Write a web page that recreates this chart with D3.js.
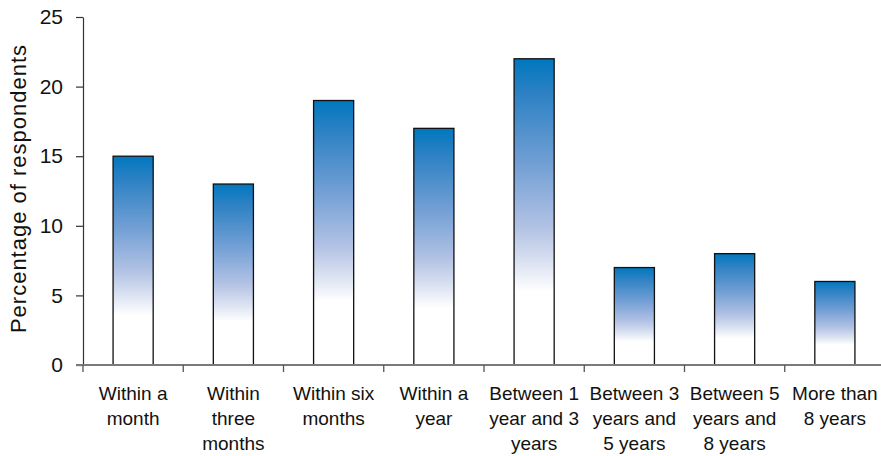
<!DOCTYPE html>
<html>
<head>
<meta charset="utf-8">
<script src="https://cdn.jsdelivr.net/npm/d3@7"></script>
<style>
  html, body { margin: 0; padding: 0; background: #fff; }
  svg { display: block; font-family: "Liberation Sans", Arial, sans-serif; }
</style>
</head>
<body>
<svg id="chart" width="881" height="456"></svg>
<script>
// Time frames (each label split into its printed lines)
const categories = [
  ["Within a", "month"],
  ["Within", "three", "months"],
  ["Within six", "months"],
  ["Within a", "year"],
  ["Between 1", "year and 3", "years"],
  ["Between 3", "years and", "5 years"],
  ["Between 5", "years and", "8 years"],
  ["More than", "8 years"]
];
const values = [15, 13, 19, 17, 22, 7, 8, 6];
const yTicks = [0, 5, 10, 15, 20, 25];
const yTitle = "Percentage of respondents";

const svg = d3.select("#chart");
const plotLeft = 83, plotRight = 885, plotTop = 17, plotBottom = 365;

const x = d3.scaleBand()
  .domain(d3.range(categories.length))
  .range([plotLeft, plotRight])
  .paddingInner(0.6)
  .paddingOuter(0.3);

const xAxisScale = d3.scaleBand()
  .domain(d3.range(categories.length))
  .range([plotLeft, plotRight]);

const y = d3.scaleLinear().domain([0, 25]).range([plotBottom, plotTop]);

// Vertical blue-to-white fill used by every bar
const defs = svg.append("defs");
const grad = defs.append("linearGradient")
  .attr("id", "barFill")
  .attr("x1", 0).attr("y1", 0).attr("x2", 0).attr("y2", 1);
[
  [0, "#0077be"],
  [0.12, "#2f82c4"],
  [0.35, "#74a0d5"],
  [0.55, "#b2c2e4"],
  [0.68, "#e0e6f3"],
  [0.76, "#ffffff"],
  [1, "#ffffff"]
].forEach(([o, c]) => grad.append("stop").attr("offset", o).attr("stop-color", c));

// Bars
svg.append("g")
  .selectAll("rect")
  .data(values)
  .join("rect")
  .attr("x", (d, i) => x(i))
  .attr("width", x.bandwidth())
  .attr("y", d => y(d))
  .attr("height", d => y(0) - y(d))
  .attr("fill", "url(#barFill)")
  .attr("stroke", "#111")
  .attr("stroke-width", 1.3);

// Y axis
const yAxis = svg.append("g")
  .attr("transform", `translate(${plotLeft},0)`)
  .call(d3.axisLeft(y).tickValues(yTicks).tickSize(7).tickPadding(13).tickSizeOuter(0));
yAxis.select(".domain").attr("stroke", "#333").attr("stroke-width", 1.2);
yAxis.selectAll(".tick line").attr("stroke", "#333").attr("stroke-width", 1.2);
yAxis.selectAll(".tick text")
  .attr("font-size", 21)
  .attr("fill", "#111")
  .attr("font-family", "Liberation Sans, Arial, sans-serif");

// X axis with tick marks on category boundaries
const xAxis = svg.append("g").attr("transform", `translate(0,${plotBottom})`);
xAxis.append("line")
  .attr("x1", plotLeft - 7).attr("x2", 881)
  .attr("y1", 0).attr("y2", 0)
  .attr("stroke", "#7a7a7a").attr("stroke-width", 2);
xAxis.selectAll("line.tick")
  .data(d3.range(categories.length + 1))
  .join("line")
  .attr("class", "tick")
  .attr("x1", i => i < categories.length ? xAxisScale(i) : plotRight)
  .attr("x2", i => i < categories.length ? xAxisScale(i) : plotRight)
  .attr("y1", 0).attr("y2", 7)
  .attr("stroke", "#555").attr("stroke-width", 1.3);

// Category labels, one tspan per line
const labels = xAxis.selectAll("text.cat")
  .data(categories)
  .join("text")
  .attr("class", "cat")
  .attr("text-anchor", "middle")
  .attr("font-size", 19)
  .attr("fill", "#111")
  .attr("transform", (d, i) => `translate(${xAxisScale(i) + xAxisScale.bandwidth() / 2},34.5)`);
labels.selectAll("tspan")
  .data(d => d)
  .join("tspan")
  .attr("x", 0)
  .attr("y", (d, j) => j * 25)
  .text(d => d);

// Y axis title
svg.append("text")
  .attr("transform", `translate(25.5,188.5) rotate(-90)`)
  .attr("text-anchor", "middle")
  .attr("font-size", 22)
  .attr("letter-spacing", 1)
  .attr("fill", "#111")
  .text(yTitle);
</script>
</body>
</html>
